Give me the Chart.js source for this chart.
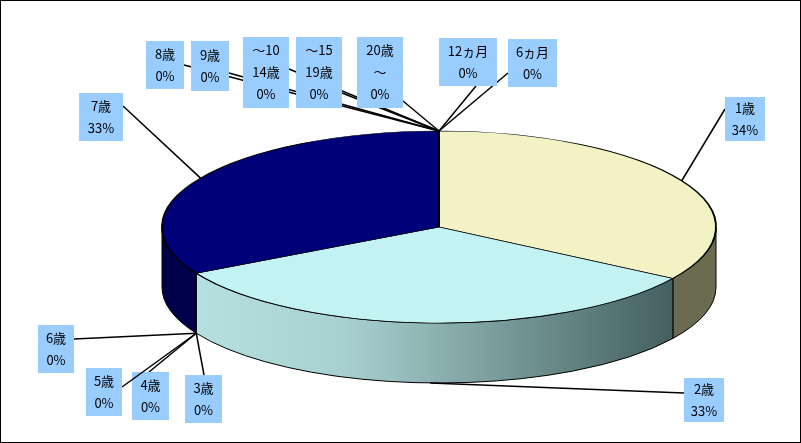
<!DOCTYPE html>
<html>
<head>
<meta charset="utf-8">
<script src="https://cdn.jsdelivr.net/npm/chart.js@4"></script>
<style>
  body { margin: 0; background: #fff; }
  #wrap { width: 799px; height: 441px; border: 1px solid #000; }
</style>
</head>
<body>
<div id="wrap"><canvas id="pie" width="799" height="441"></canvas></div>
<script>
// データ
const ageLabels = ["6ヵ月", "12ヵ月", "1歳", "2歳", "3歳", "4歳", "5歳", "6歳", "7歳", "8歳", "9歳", "～10\n14歳", "～15\n19歳", "20歳\n～"];
const percentValues = [0, 0, 34, 33, 0, 0, 0, 0, 33, 0, 0, 0, 0, 0];
const topColors = ["#9999ff", "#993366", "#f2f2c4", "#c3f2f2", "#660066", "#ff8080", "#0066cc", "#ccccff", "#000078", "#ff00ff", "#ffff00", "#00ffff", "#800080", "#800000"];
const sideColors = ["#555588", "#552233", "#6b6b50", "#446060", "#330033", "#884444", "#003366", "#777799", "#00004a", "#880088", "#888800", "#008888", "#440044", "#440000"];

// レイアウト (ラベルボックス: x, y, w, h, 引出線の端点)
const labelBoxes = [
  [507, 38, 49, 48, 507, 72],
  [438, 37, 58, 48, 475, 85],
  [724, 96, 40, 44, 724, 108],
  [683, 377, 40, 44, 683, 392],
  [184, 374, 37, 48, 203, 374],
  [131, 371, 37, 48, 148, 371],
  [85, 367, 36, 48, 121, 386],
  [37, 324, 36, 48, 73, 338],
  [78, 92, 44, 48, 122, 105],
  [145, 40, 38, 48, 183, 64],
  [190, 40, 38, 50, 228, 72],
  [242, 36, 46, 71, 288, 68],
  [295, 36, 46, 71, 341, 92],
  [356, 36, 46, 71, 402, 100],
];
const CX = 438, CY = 226, RX = 277, RY = 96, DEPTH = 60;

const pie3d = {
  id: "pie3d",
  beforeDatasetsDraw(chart) {
    const ctx = chart.ctx;
    const arcs = chart.getDatasetMeta(0).data;
    // 側面
    arcs.forEach((arc, i) => {
      if (!percentValues[i]) return;
      let a1 = Math.max(arc.startAngle, 0), a2 = Math.min(arc.endAngle, Math.PI);
      if (a2 <= a1) return;
      ctx.beginPath();
      ctx.ellipse(CX, CY, RX, RY, 0, a1, a2);
      ctx.lineTo(CX + RX * Math.cos(a2), CY + DEPTH + RY * Math.sin(a2));
      ctx.ellipse(CX, CY + DEPTH, RX, RY, 0, a2, a1, true);
      ctx.closePath();
      if (i === 3) {
        const g = ctx.createLinearGradient(CX - RX, 0, CX + RX * 0.9, 0);
        g.addColorStop(0, "#b8e4e4");
        g.addColorStop(0.35, "#a8d0d0");
        g.addColorStop(1, "#3f5a5a");
        ctx.fillStyle = g;
      } else {
        ctx.fillStyle = sideColors[i];
      }
      ctx.fill();
      ctx.strokeStyle = "#000";
      ctx.lineWidth = 1;
      ctx.stroke();
    });
    const a = arcs[0];
    ctx.save();
    ctx.translate(CX, CY);
    ctx.scale(RX / a.outerRadius, RY / a.outerRadius);
    ctx.translate(-a.x, -a.y);
  },
  afterDatasetsDraw(chart) {
    const ctx = chart.ctx;
    ctx.restore();
    const arcs = chart.getDatasetMeta(0).data;
    ctx.font = "13px 'Noto Sans CJK JP'";
    ctx.textAlign = "center";
    ctx.textBaseline = "middle";
    arcs.forEach((arc, i) => {
      const mid = (arc.startAngle + arc.endAngle) / 2;
      let px = CX + RX * Math.cos(mid), py = CY + RY * Math.sin(mid);
      if (Math.sin(mid) > 0.05) py += DEPTH;
      const [bx, by, bw, bh, lx, ly] = labelBoxes[i];
      ctx.strokeStyle = "#000";
      ctx.lineWidth = 1.5;
      ctx.beginPath();
      ctx.moveTo(px, py);
      ctx.lineTo(lx, ly);
      ctx.stroke();
      ctx.fillStyle = "#99ccff";
      ctx.fillRect(bx, by, bw, bh);
      ctx.fillStyle = "#000";
      const lines = ageLabels[i].split("\n").concat([percentValues[i] + "%"]);
      const step = 22;
      const y0 = by + bh / 2 - (lines.length - 1) * step / 2;
      lines.forEach((t, k) => ctx.fillText(t, bx + bw / 2, y0 + k * step));
    });
  }
};

new Chart(document.getElementById("pie"), {
  type: "pie",
  data: {
    labels: ageLabels,
    datasets: [{
      data: percentValues,
      backgroundColor: topColors,
      borderColor: "#000",
      borderWidth: 1.5,
    }],
  },
  options: {
    responsive: false,
    animation: false,
    plugins: { legend: { display: false }, tooltip: { enabled: false } },
  },
  plugins: [pie3d],
});
</script>
</body>
</html>
